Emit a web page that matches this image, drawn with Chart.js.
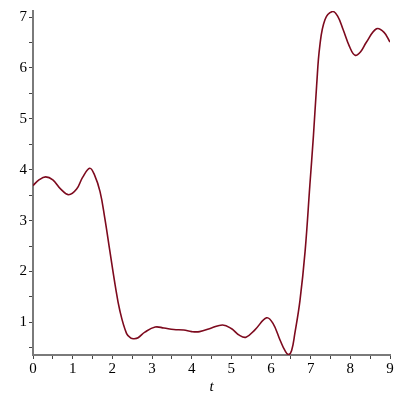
<!DOCTYPE html>
<html>
<head>
<meta charset="utf-8">
<script src="https://cdn.jsdelivr.net/npm/chart.js@4/dist/chart.umd.min.js"></script>
<style>
  body { margin: 0; background: #fff; }
  canvas { display: block; }
</style>
</head>
<body>
<canvas id="plot" width="400" height="400"></canvas>
<script>
// curve samples (t, value)
const tValues = [0, 0.15, 0.32, 0.5, 0.7, 0.9, 1.1, 1.25, 1.43, 1.55, 1.69, 1.81, 1.94, 2.07, 2.19, 2.36, 2.47, 2.55, 2.65, 2.82, 3.08, 3.3, 3.55, 3.8, 4.0, 4.2, 4.5, 4.78, 5.0, 5.2, 5.37, 5.6, 5.89, 6.05, 6.23, 6.35, 6.44, 6.52, 6.6, 6.73, 6.86, 6.98, 7.07, 7.15, 7.23, 7.36, 7.55, 7.68, 7.82, 7.98, 8.12, 8.26, 8.4, 8.66, 8.85, 9.0];
const yValues = [3.69, 3.80, 3.86, 3.80, 3.62, 3.51, 3.62, 3.85, 4.03, 3.90, 3.57, 3.05, 2.39, 1.74, 1.23, 0.78, 0.69, 0.68, 0.70, 0.81, 0.91, 0.89, 0.86, 0.85, 0.82, 0.82, 0.89, 0.95, 0.88, 0.75, 0.71, 0.86, 1.09, 0.98, 0.65, 0.45, 0.37, 0.45, 0.78, 1.43, 2.40, 3.70, 4.67, 5.65, 6.43, 6.95, 7.11, 7.02, 6.75, 6.42, 6.25, 6.32, 6.50, 6.77, 6.70, 6.51];

const xTicks = [0, 0.5, 1, 1.5, 2, 2.5, 3, 3.5, 4, 4.5, 5, 5.5, 6, 6.5, 7, 7.5, 8, 8.5, 9];
const yTicks = [0.5, 1, 1.5, 2, 2.5, 3, 3.5, 4, 4.5, 5, 5.5, 6, 6.5, 7];
const xLabel = 't';

const points = tValues.map((t, i) => ({ x: t, y: yValues[i] }));
const tickFont = { family: '"Liberation Serif", "DejaVu Serif", serif', size: 15 };
const isMajor = v => Math.abs(v - Math.round(v)) < 1e-9;

new Chart(document.getElementById('plot').getContext('2d'), {
  type: 'line',
  data: {
    datasets: [{
      data: points,
      borderColor: '#7d0a1e',
      borderWidth: 1.6,
      pointRadius: 0,
      tension: 0.4,
    }],
  },
  options: {
    animation: false,
    responsive: false,
    layout: { padding: { top: 9, right: 10, left: 0, bottom: 0 } },
    plugins: { legend: { display: false }, tooltip: { enabled: false } },
    scales: {
      x: {
        type: 'linear',
        min: 0,
        max: 9,
        afterBuildTicks: s => { s.ticks = xTicks.map(v => ({ value: v })); },
        afterFit: s => { s.height = 45; },
        border: { color: '#7a7a7a', width: 2 },
        grid: {
          drawOnChartArea: false,
          tickLength: 4,
          tickColor: '#444',
        },
        ticks: {
          color: '#000',
          font: tickFont,
          padding: 1,
          maxRotation: 0,
          autoSkip: false,
          callback: v => (isMajor(v) ? String(Math.round(v)) : ''),
        },
        title: {
          display: true,
          text: xLabel,
          color: '#000',
          font: { family: '"Liberation Serif", serif', size: 15, style: 'italic' },
          padding: { top: 0, bottom: 4 },
        },
      },
      y: {
        type: 'linear',
        min: 0.36,
        max: 7.12,
        afterBuildTicks: s => { s.ticks = yTicks.map(v => ({ value: v })); },
        afterFit: s => { s.width = 33; },
        border: { color: '#7a7a7a', width: 2 },
        grid: {
          drawOnChartArea: false,
          tickLength: 4,
          tickColor: '#444',
        },
        ticks: {
          color: '#000',
          font: tickFont,
          padding: 2,
          autoSkip: false,
          callback: v => (isMajor(v) ? String(Math.round(v)) : ''),
        },
      },
    },
  },
});
</script>
</body>
</html>
